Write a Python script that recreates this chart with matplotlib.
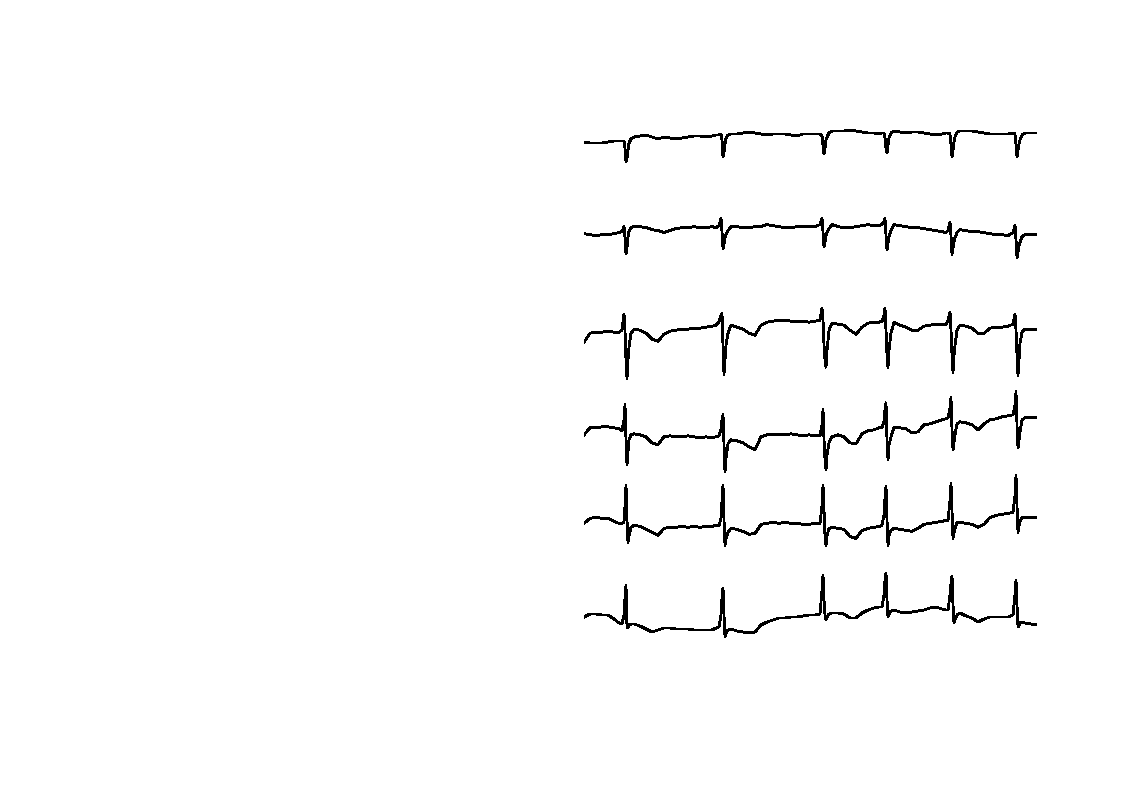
import numpy as np
import matplotlib
matplotlib.use("Agg")
import matplotlib.pyplot as plt

# time (ms), shared by all leads
time_ms = [
    0, 120, 240, 360, 480, 600, 700,
    760, 800, 820, 840, 860, 880, 900, 940, 1000,
    1120, 1240, 1360, 1480, 1600, 1720, 1840, 1960, 2080, 2200, 2320, 2440, 2560, 2640,
    2700, 2740, 2760, 2780, 2800, 2820, 2840, 2880, 2940,
    3060, 3180, 3300, 3420, 3540, 3660, 3780, 3900, 4020, 4140, 4260, 4380, 4500, 4620, 4720,
    4760, 4780, 4800, 4820, 4840, 4860, 4900, 4960,
    5080, 5200, 5320, 5440, 5560, 5680, 5800, 5900, 5960,
    6000, 6020, 6040, 6060, 6080, 6100, 6140, 6200,
    6320, 6440, 6560, 6680, 6800, 6920, 7040, 7160, 7240, 7280, 7320,
    7340, 7360, 7380, 7400, 7420, 7460, 7520,
    7640, 7760, 7880, 8000, 8120, 8240, 8360, 8480, 8580,
    8620, 8640, 8660, 8680, 8700, 8720, 8760, 8820,
    8940, 9060,
]

# amplitudes (uV) for each lead, top to bottom
lead1 = [
    -40, -60, -60, -60, -40, -20, -20,
    -20, -20, -160, -440, -360, -200, -60, 20, 60,
    80, 100, 60, 20, 60, 40, 20, 40, 60, 80, 80, 60, 80, 100,
    100, 120, 0, -340, -240, -80, 40, 100, 120,
    120, 140, 160, 140, 120, 100, 120, 120, 120, 100, 80, 120, 120, 120, 120,
    80, -100, -280, -160, 0, 60, 140, 180,
    180, 180, 200, 180, 160, 140, 140, 120, 140,
    140, 40, -160, -260, -100, 40, 140, 180,
    160, 140, 160, 160, 140, 120, 100, 120, 140, 140, 120,
    -100, -340, -200, -40, 60, 160, 180,
    180, 180, 160, 140, 120, 120, 120, 120, 140,
    120, -100, -340, -200, -80, 0, 100, 140,
    140, 140,
]
lead2 = [
    40, 20, 0, 20, 20, 40, 60,
    80, 180, -40, -360, -240, -20, 80, 160, 180,
    180, 160, 120, 100, 60, 100, 140, 160, 160, 180, 160, 160, 180, 160,
    200, 340, 80, -260, -180, -40, 20, 100, 180,
    180, 160, 160, 180, 180, 220, 200, 180, 160, 160, 180, 180, 180, 180, 220,
    340, 80, -220, -120, 0, 60, 140, 220,
    180, 160, 160, 180, 200, 220, 200, 200, 220,
    280, 340, 20, -280, -160, -20, 100, 220,
    200, 180, 160, 160, 140, 120, 100, 80, 60, 100, 260,
    0, -380, -240, -120, -40, 60, 120,
    100, 80, 80, 60, 40, 20, 20, 0, 60,
    200, -80, -440, -320, -200, -140, -20, 20,
    20, 20,
]
lead3 = [
    -220, -40, -20, -20, 0, -20, -20,
    20, 340, 20, -580, -940, -580, -320, -40, 40,
    20, -40, -160, -200, -60, 0, 20, 40, 40, 60, 60, 80, 100, 120,
    180, 320, 360, -280, -860, -580, -280, -40, 120,
    80, 40, -40, -80, 120, 180, 200, 220, 220, 200, 200, 200, 180, 200, 220,
    460, 220, -280, -580, -720, -380, 20, 160,
    140, 120, 20, -60, 80, 160, 180, 180, 200,
    320, 460, 20, -480, -720, -380, -40, 180,
    120, 80, 20, 20, 100, 120, 140, 140, 140, 220, 380,
    20, -480, -820, -480, -280, 20, 120,
    100, 60, -40, -40, 60, 80, 80, 100, 140,
    340, 20, -480, -880, -580, -240, -20, 40,
    40, 40,
]
lead4 = [
    -160, -20, -20, 0, 0, -20, -40,
    -80, 140, 440, -260, -760, -500, -260, -160, -140,
    -160, -200, -320, -360, -200, -180, -200, -200, -180, -200, -220, -200, -220, -200,
    -180, -60, 140, 240, -360, -900, -620, -340, -260,
    -280, -320, -400, -460, -200, -160, -160, -160, -160, -140, -160, -180, -160, -180, -180,
    40, 340, -260, -660, -860, -560, -320, -200,
    -160, -200, -320, -340, -140, -80, -60, -20, -20,
    100, 340, 480, -260, -660, -360, -200, -20,
    -20, -40, -120, -100, 40, 60, 100, 140, 160, 180, 380,
    580, -60, -460, -300, -160, 60, 100,
    80, 40, -60, 60, 140, 160, 200, 220, 240,
    440, 700, 40, -420, -260, -100, 140, 180,
    180, 180,
]
lead5 = [
    -20, 80, 100, 80, 80, 20, -20,
    -20, 0, 340, 740, 40, -400, -260, -100, -60,
    -80, -140, -200, -260, -120, -100, -100, -80, -100, -80, -100, -80, -80, -60,
    -60, 80, 440, 740, 40, -460, -320, -200, -120,
    -140, -180, -240, -220, -40, -20, 0, -20, 0, -20, -20, -40, -40, -20, -20,
    340, 740, 240, -260, -460, -260, -120, -100,
    -120, -140, -280, -320, -160, -120, -100, -80, -60,
    140, 480, 720, 40, -460, -260, -160, -120,
    -140, -160, -180, -120, -40, -20, 0, 20, 40, 40, 440,
    780, 240, -320, -200, -120, 0, 0,
    -20, -40, -100, -40, 100, 140, 160, 180, 200,
    540, 940, 340, -200, -80, 20, 100, 100,
    100, 100,
]
lead6 = [
    20, 80, 80, 60, 60, -20, -100,
    -120, 60, 400, 660, -200, -180, -140, -120, -120,
    -160, -220, -280, -240, -200, -200, -220, -220, -220, -240, -240, -240, -240, -200,
    -180, 60, 400, 600, 60, -380, -300, -240, -220,
    -260, -280, -300, -280, -140, -80, -40, 0, 0, 20, 20, 40, 60, 60, 80,
    560, 860, 360, 60, -40, 20, 80, 100,
    100, 80, 0, 0, 100, 160, 200, 220, 220,
    460, 760, 900, 360, 20, 80, 140, 160,
    120, 100, 120, 140, 160, 200, 220, 180, 160, 160, 460,
    700, 840, 260, -100, -40, 60, 100,
    40, 0, -80, -20, 20, 20, 20, 20, 60,
    460, 760, 260, -180, -140, -100, -80, -100,
    -120, -140,
]

leads = [lead1, lead2, lead3, lead4, lead5, lead6]

fig = plt.figure(figsize=(11.22, 7.93), dpi=100)
ax = fig.add_axes([584 / 1122, (793 - 660) / 793, 453 / 1122, 560 / 793])

t = np.array(time_ms, dtype=float)
spacing = 1912.0
for k, lead in enumerate(leads):
    y = np.array(lead, dtype=float) - 2800.0 - spacing * k
    ax.plot(t, y, color="black", linewidth=1.3, antialiased=False)

ax.set_xlim(0, 9060)
ax.set_ylim(-13200, -2000)
ax.axis("off")

fig.savefig("out.png", dpi=100, facecolor="white")
